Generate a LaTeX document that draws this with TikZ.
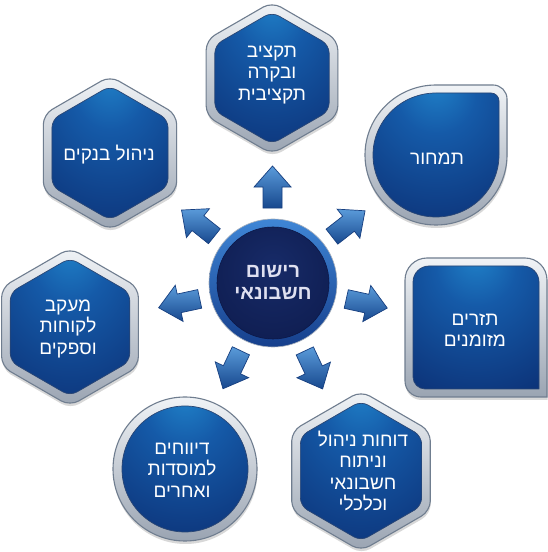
\documentclass[tikz,border=0pt]{standalone}
\usepackage{fontspec}
\newfontfamily\heb[Script=Hebrew]{Liberation Sans}
\TeXXeTstate=1
\usetikzlibrary{shapes.geometric,calc,shadows}
\newcommand\hebl[1]{\beginR #1\endR}
\definecolor{ringline}{HTML}{6F7D8F}
\definecolor{silverT}{HTML}{F0F3F6}
\definecolor{silverM}{HTML}{D2D8DF}
\definecolor{silverB}{HTML}{9AA4B2}
\definecolor{spotb}{HTML}{2082C9}
\definecolor{midb}{HTML}{155AA8}
\definecolor{darkb}{HTML}{0B2C70}
\definecolor{innerline}{HTML}{2A4674}
\definecolor{navyA}{HTML}{172B68}
\definecolor{navyB}{HTML}{0C1848}
\definecolor{ringT}{HTML}{3F86D6}
\definecolor{ringB}{HTML}{163F8C}
\definecolor{arrL}{HTML}{5A9BDA}
\definecolor{arrD}{HTML}{17488E}
\definecolor{arrLine}{HTML}{173F80}
\definecolor{ctext}{HTML}{DFE0F0}
\pgfdeclareradialshading{bluespot}{\pgfpoint{0bp}{30bp}}{color(0bp)=(spotb); color(16bp)=(midb); color(52bp)=(darkb); color(90bp)=(darkb)}
\pgfdeclareradialshading{navyspot}{\pgfpoint{0bp}{8bp}}{color(0bp)=(navyA); color(45bp)=(navyB); color(60bp)=(navyB)}
\tikzset{
  x=1pt, y=1pt,
  silverfill/.style={draw=ringline, line width=1.1pt, top color=silverT, middle color=silverM, bottom color=silverB,
    drop shadow={opacity=0.3, shadow xshift=0.5pt, shadow yshift=-3pt}},
  bluefill/.style={draw=innerline, line width=0.7pt, shade, shading=bluespot},
  hexout/.style={regular polygon, regular polygon sides=6, shape border rotate=30, inner sep=0pt, rounded corners=10pt, silverfill},
  hexin/.style={regular polygon, regular polygon sides=6, shape border rotate=30, inner sep=0pt, rounded corners=8pt, bluefill},
  circout/.style={circle, inner sep=0pt, silverfill},
  circin/.style={circle, inner sep=0pt, bluefill},
  lbl/.style={font=\heb\fontsize{19}{21.5}\selectfont, text=white, align=center, inner sep=0pt},
  clbl/.style={font=\heb\bfseries\fontsize{20}{22}\selectfont, text=ctext, align=center, inner sep=0pt},
  arrowbody/.style={draw=arrLine, line width=0.7pt, top color=arrL, bottom color=arrD},
  barr/.pic={\path[arrowbody] (-21,-9.5) -- (0,-9.5) -- (0,-18.5) -- (21,0) -- (0,18.5) -- (0,9.5) -- (-21,9.5) -- cycle;}
}
\begin{document}
\begin{tikzpicture}
\useasboundingbox[fill=white] (0,0) rectangle (548,552);

% top hexagon
\node[hexout, minimum size=152pt] (s1) at (272,474) {};
\node[hexin, minimum size=132pt] (s1i) at (s1) {};
\node[lbl] (t1) at (272,477) {\hebl{תקציב}\\\hebl{ובקרה}\\\hebl{תקציבית}};

% top right drop shape
\coordinate (s2) at (436,397);
\path[silverfill] (436,467) -- (493,467) arc[start angle=90, end angle=0, radius=14]
  -- (507,397) arc[start angle=0, end angle=-90, x radius=71, y radius=70]
  arc[start angle=-90, end angle=-180, x radius=71, y radius=70]
  arc[start angle=180, end angle=90, x radius=71, y radius=70] -- cycle;
\path[bluefill] (436,459) -- (491,459) arc[start angle=90, end angle=0, radius=8]
  -- (499,397) arc[start angle=0, end angle=-90, x radius=63, y radius=62]
  arc[start angle=-90, end angle=-180, x radius=63, y radius=62]
  arc[start angle=180, end angle=90, x radius=63, y radius=62] -- cycle;
\node[lbl] (t2) at (437,393) {\hebl{תמחור}};

% right square
\coordinate (s3) at (476,224.5);
\path[silverfill] (547,155) -- (421,155) arc[start angle=270, end angle=180, radius=16]
  -- (405,272) arc[start angle=180, end angle=90, radius=22]
  -- (525,294) arc[start angle=90, end angle=0, radius=22] -- cycle;
\path[bluefill] (539,163) -- (425,163) arc[start angle=270, end angle=180, radius=12]
  -- (413,270) arc[start angle=180, end angle=90, radius=16]
  -- (523,286) arc[start angle=90, end angle=0, radius=16] -- cycle;
\node[lbl] (t3) at (475,222) {\hebl{תזרים}\\\hebl{מזומנים}};

% bottom right hexagon
\node[hexout, minimum size=160pt] (s4) at (361,81) {};
\node[hexin, minimum size=140pt] (s4i) at (s4) {};
\node[lbl] (t4) at (363,81) {\hebl{דוחות ניהול}\\\hebl{וניתוח}\\\hebl{חשבונאי}\\\hebl{וכלכלי}};

% bottom left circle
\node[circout, minimum size=144pt] (s5) at (185,83) {};
\node[circin, minimum size=126pt] (s5i) at (s5) {};
\node[lbl] (t5) at (182,82) {\hebl{דיווחים}\\\hebl{למוסדות}\\\hebl{ואחרים}};

% left hexagon
\node[hexout, minimum size=158pt] (s6) at (70,225) {};
\node[hexin, minimum size=138pt] (s6i) at (s6) {};
\node[lbl] (t6) at (68,223) {\hebl{מעקב}\\\hebl{לקוחות}\\\hebl{וספקים}};

% top left hexagon
\node[hexout, minimum size=154pt] (s7) at (110,399) {};
\node[hexin, minimum size=134pt] (s7i) at (s7) {};
\node[lbl] (t7) at (109,397) {\hebl{ניהול בנקים}};

% center circle
\node[circle, inner sep=0pt, minimum size=128pt, draw=ringline!60, line width=0.6pt, top color=ringT, bottom color=ringB] (c) at (273,269) {};
\node[circle, inner sep=0pt, minimum size=112pt, draw=navyB, line width=0.6pt, shade, shading=navyspot] (ci) at (c) {};
\node[clbl] (ct) at (273,270) {\hebl{רישום}\\\hebl{חשבונאי}};

% arrows
\pic[rotate=90] (a1) at ($(c)!96pt!(s1)$) {barr};
\pic[rotate=38] (a2) at ($(c)!96pt!(s2)$) {barr};
\pic[rotate=-12.4] (a3) at ($(c)!96pt!(s3)$) {barr};
\pic[rotate=-64.9] (a4) at ($(c)!96pt!(s4)$) {barr};
\pic[rotate=-115.3] (a5) at ($(c)!96pt!(s5)$) {barr};
\pic[rotate=192.2] (a6) at ($(c)!96pt!(s6)$) {barr};
\pic[rotate=141.4] (a7) at ($(c)!96pt!(s7)$) {barr};
\end{tikzpicture}
\end{document}
